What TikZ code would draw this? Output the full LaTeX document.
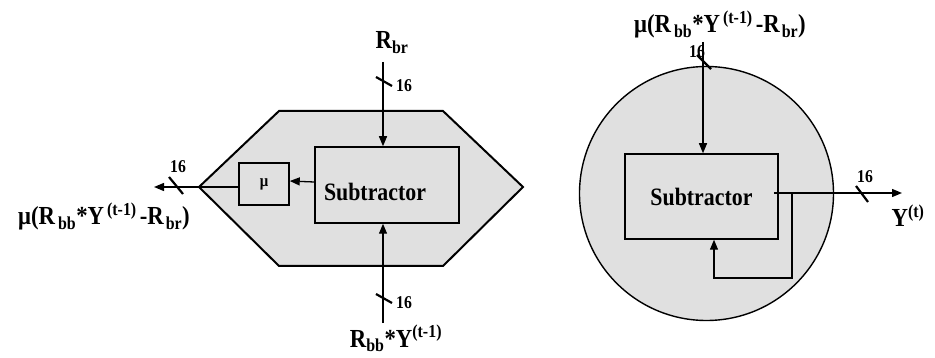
\documentclass[tikz,border=0pt]{standalone}
\usepackage{fontspec}
\setmainfont{Liberation Serif}[FakeStretch=0.875]
\usetikzlibrary{arrows.meta}
\definecolor{shellgray}{HTML}{E0E0E0}
\tikzset{
        shell/.style={draw=black, fill=shellgray, line width=2pt, line join=miter},
        sub_box/.style={draw=black, fill=shellgray, line width=1.5pt, inner sep=0pt,
                        font=\fontsize{25}{27}\selectfont\bfseries},
        mu_box/.style={sub_box, minimum width=50pt, minimum height=42pt,
                       font=\fontsize{17}{19}\selectfont\bfseries},
        conn/.style={line width=1.3pt, draw=black},
        arr/.style={conn, -{Triangle[length=10pt, width=8pt]}},
        bus_tick/.style={line width=2.2pt},
        bus_text/.style={font=\fontsize{18}{20}\selectfont\bfseries, inner sep=0pt},
        sig_text/.style={font=\fontsize{26}{28}\selectfont\bfseries, inner sep=0pt, anchor=base}
    }

\begin{document}
\begin{tikzpicture}[x=1pt, y=-1pt]
    \useasboundingbox (0,0) rectangle (935,358);
    % left block
    \draw[shell] (199,187) coordinate (hex_tip) -- (279,111) -- (443,111) -- (523,187)
        -- (443,266) -- (279,266) -- cycle;
    \node[sub_box, minimum width=144pt, minimum height=76pt, text width=126pt,
          text height=31pt, text depth=0pt, align=left, inner xsep=9pt] (sub_l)
        at (387,185) {Subtractor};
    \node[mu_box] (mu) at (264,184) {μ};
    \coordinate (rbr_in) at (383,62);
    \coordinate (ryy_in) at (383,323);
    \coordinate (mu_out) at (154,187);
    \draw[arr] (rbr_in) -- (rbr_in |- sub_l.north);
    \draw[arr] (ryy_in) -- (ryy_in |- sub_l.south);
    \draw[arr] ([yshift=3pt]sub_l.west) -- ([yshift=3pt]mu.east);
    \draw[arr] ([yshift=-3pt]mu.west) -- (hex_tip) -- (mu_out);
    \draw[bus_tick] (176,186) +(-7,-9) -- +(7,8);
    \draw[bus_tick] (384,82) +(-8,-5) -- +(8,4);
    \draw[bus_tick] (384,299) +(-8,-5) -- +(8,4);
    \node[bus_text] (w_out) at (178,167) {16};
    \node[bus_text] (w_rbr) at (404,86) {16};
    \node[bus_text] (w_ryy) at (404,303) {16};
    \node[sig_text] (s_rbr) at (392,49) {R\textsubscript{br}};
    \node[sig_text] (s_ryy) at (396,347) {R\textsubscript{bb}*Y\textsuperscript{(t-1)}};
    \node[sig_text] (s_out) at (104,225)
        {μ(R\kern3pt\textsubscript{bb}*Y\kern3pt\textsuperscript{(t-1)}\kern3pt-R\kern2pt\textsubscript{br})};
    % right block
    \node[shell, circle, line width=1.4pt, minimum size=254pt, inner sep=0pt] (ring)
        at (706.5,193.5) {};
    \node[sub_box, minimum width=153pt, minimum height=85pt] (sub_r) at (701.5,196.5) {Subtractor};
    \coordinate (fb_in) at (703,42);
    \coordinate (y_src) at ([xshift=-5pt]sub_r.east);
    \coordinate (y_out) at (902,193);
    \coordinate (fb_tap) at (792,193);
    \draw[arr] (fb_in) -- (fb_in |- sub_r.north);
    \draw[arr] (y_src |- y_out) -- (y_out);
    \draw[arr] (fb_tap) -- (792,278) -| ([xshift=12.5pt]sub_r.south);
    \draw[bus_tick] (704,62) +(-7,-7) -- +(7,7);
    \draw[bus_tick] (862,194) +(-6,-8) -- +(6,8);
    \node[bus_text] (w_fb) at (697,52) {16};
    \node[bus_text] (w_y) at (865,177) {16};
    \node[sig_text] (s_fb) at (720,33)
        {μ(R\kern3pt\textsubscript{bb}*Y\kern3pt\textsuperscript{(t-1)}\kern3pt-R\kern2pt\textsubscript{br})};
    \node[sig_text] (s_y) at (908,227) {Y\textsuperscript{(t)}};
\end{tikzpicture}
\end{document}
